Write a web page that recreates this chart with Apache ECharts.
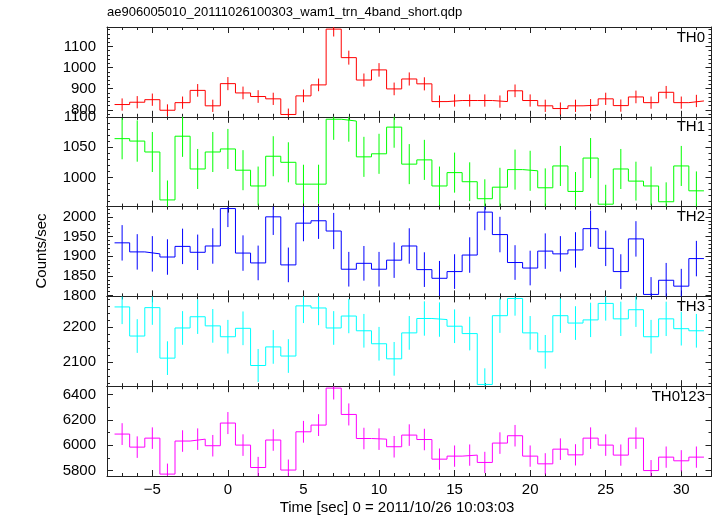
<!DOCTYPE html>
<html><head><meta charset="utf-8">
<script src="https://cdn.jsdelivr.net/npm/echarts@6/dist/echarts.min.js"></script>
<style>html,body{margin:0;padding:0;background:#fff}#c{width:717px;height:516px}</style>
</head><body><div id="c"></div>
<script>
const titleText = 'ae906005010_20111026100303_wam1_trn_4band_short.qdp';
const xAxisTitle = 'Time [sec] 0 = 2011/10/26 10:03:03';
const yAxisTitle = 'Counts/sec';
const panelNames = ['TH0', 'TH1', 'TH2', 'TH3', 'TH0123'];
const panelColors = ['#ff0000', '#00ff00', '#0000ff', '#00ffff', '#ff00ff'];

const timeBins = [-7,-6,-5,-4,-3,-2,-1,0,1,2,3,4,5,6,7,8,9,10,11,12,13,14,15,16,17,18,19,20,21,22,23,24,25,26,27,28,29,30,31];
const binWidth = 1;

const th0 = [825,836,848,798,834,892,819,924,880,863,852,778,866,918,1182,1047,941,989,899,946,923,839,844,844,844,839,890,844,819,806,819,822,852,820,861,834,883,834,842];
const th0Err = [29,29,29,28,29,30,29,31,30,30,29,28,30,30,35,33,31,32,30,31,31,29,29,29,29,29,30,29,29,29,29,29,29,29,30,29,30,29,29];

const th1 = [1064,1060,1042,963,1068,1014,1042,1047,1012,986,1035,1025,989,989,1096,1093,1034,1039,1083,1022,1029,986,1008,993,965,984,1013,1011,983,1019,977,1032,956,1014,994,986,960,1019,978];
const th1Err = [34,34,33,32,34,33,33,33,33,32,33,33,32,32,34,34,33,33,34,33,33,32,33,32,32,32,33,33,32,33,32,33,32,33,32,32,32,33,32];

const th2 = [1934,1911,1906,1898,1925,1910,1926,2021,1908,1883,2000,1878,1984,1990,1964,1867,1882,1867,1890,1926,1866,1844,1861,1903,2012,1955,1884,1870,1913,1906,1916,1970,1920,1861,1944,1803,1839,1824,1894];
const th2Err = [45,45,45,45,45,45,45,47,45,44,46,44,46,46,46,44,44,44,45,45,44,44,44,45,46,45,44,44,45,45,45,46,45,44,45,44,44,44,45];

const th3 = [2257,2174,2255,2111,2197,2229,2203,2172,2196,2090,2143,2117,2260,2254,2197,2231,2189,2152,2109,2183,2224,2221,2202,2181,2036,2232,2281,2183,2129,2232,2211,2220,2267,2223,2249,2172,2223,2195,2189];
const th3Err = [49,48,49,48,48,49,48,48,48,47,48,48,49,49,48,49,48,48,48,48,49,49,48,48,46,49,49,48,48,49,48,49,49,49,49,48,49,48,48];

const th0123 = [6087,5984,6055,5771,6032,6047,5995,6174,6000,5823,6040,5803,6105,6158,6450,6242,6052,6047,5987,6079,6044,5889,5913,5921,5863,6016,6074,5913,5852,5968,5923,6055,6000,5921,6055,5799,5905,5876,5905];
const th0123Err = [86,85,85,83,85,85,85,87,85,84,85,83,86,86,90,87,85,85,85,85,85,84,84,84,84,85,85,84,84,85,84,85,85,84,85,83,84,84,84];

const xRange = [-8, 32];
const yRanges = [[767, 1192], [952, 1100], [1798, 2026], [2031, 2287], [5756, 6465]];
const ySplits = [5, 3, 4, 3, 4];
const yMinorSplits = [5, 5, 5, 5, 2];

const panelValues = [th0, th1, th2, th3, th0123];
const panelErrors = [th0Err, th1Err, th2Err, th3Err, th0123Err];

const FONT = '"Liberation Sans", Arial, Helvetica, sans-serif';
const gridLeft = 107, gridRight = 5.5, gridTop0 = 27, panelH = 89.8;
const axisColor = '#222';

const chart = echarts.init(document.getElementById('c'), null, {renderer: 'canvas'});

const grids = [], xAxes = [], yAxes = [], series = [], graphics = [];
const minus = v => String(v).replace('-', '\u2212');
const plain = v => String(v);

for (let i = 0; i < 5; i++) {
  const top = gridTop0 + i * panelH;
  grids.push({left: gridLeft, right: gridRight, top: top, height: panelH, outerBoundsMode: 'none', containLabel: false});
  const xBase = {
    type: 'value', gridIndex: i, min: xRange[0], max: xRange[1], splitNumber: 8,
    axisLine: {show: true, onZero: false, lineStyle: {color: axisColor, width: 1}},
    axisTick: {show: true, inside: true, length: 6, lineStyle: {color: axisColor}},
    minorTick: {show: true, splitNumber: 5, length: 3, lineStyle: {color: axisColor}},
    splitLine: {show: false}, minorSplitLine: {show: false}
  };
  xAxes.push(Object.assign({}, xBase, {
    position: 'bottom',
    axisLabel: {show: i === 4, margin: 6, fontSize: 15, color: '#000', fontFamily: FONT,
      showMinLabel: false, showMaxLabel: false, formatter: minus}
  }));
  xAxes.push(Object.assign({}, xBase, {position: 'top', axisLabel: {show: false}}));

  const yBase = {
    type: 'value', gridIndex: i, min: yRanges[i][0], max: yRanges[i][1], splitNumber: ySplits[i],
    axisLine: {show: true, onZero: false, lineStyle: {color: axisColor, width: 1}},
    axisTick: {show: true, inside: true, length: 6, lineStyle: {color: axisColor}},
    minorTick: {show: true, splitNumber: yMinorSplits[i], length: 3, lineStyle: {color: axisColor}},
    splitLine: {show: false}, minorSplitLine: {show: false}, scale: true
  };
  yAxes.push(Object.assign({}, yBase, {
    position: 'left',
    axisLabel: {show: true, margin: 11, fontSize: 15, color: '#000', fontFamily: FONT,
      showMinLabel: false, showMaxLabel: i === 1, hideOverlap: false, formatter: plain}
  }));
  yAxes.push(Object.assign({}, yBase, {position: 'right', axisLabel: {show: false}}));

  const vals = panelValues[i], errs = panelErrors[i], col = panelColors[i];
  const stepData = timeBins.map((t, k) => [t - binWidth / 2, vals[k]]);
  stepData.push([timeBins[timeBins.length - 1] + binWidth / 2, vals[vals.length - 1]]);
  series.push({
    type: 'line', xAxisIndex: 2 * i, yAxisIndex: 2 * i, data: stepData, step: 'end',
    symbol: 'none', clip: true, silent: true,
    lineStyle: {color: col, width: 1}
  });
  series.push({
    type: 'custom', xAxisIndex: 2 * i, yAxisIndex: 2 * i, clip: true, silent: true,
    data: timeBins.map((t, k) => [t, vals[k], errs[k]]),
    encode: {x: 0, y: 1},
    renderItem: function (params, api) {
      const x = api.value(0), y = api.value(1), e = api.value(2);
      const p1 = api.coord([x, y + e]);
      const p2 = api.coord([x, y - e]);
      return {type: 'line', shape: {x1: p1[0], y1: p1[1], x2: p2[0], y2: p2[1]},
        style: {stroke: col, lineWidth: 1}};
    }
  });
  graphics.push({type: 'text', x: 705, y: top + 10.5,
    style: {text: panelNames[i], fill: '#000', font: '15px ' + FONT, textAlign: 'right', textVerticalAlign: 'middle'}});
}

graphics.push({type: 'text', x: 107, y: 12,
  style: {text: titleText, fill: '#000', font: '13px ' + FONT, textAlign: 'left', textVerticalAlign: 'middle'}});
graphics.push({type: 'text', x: 397, y: 508,
  style: {text: xAxisTitle, fill: '#000', font: '15px ' + FONT, textAlign: 'center', textVerticalAlign: 'middle'}});
graphics.push({type: 'text', x: 42, y: 251, rotation: Math.PI / 2,
  style: {text: yAxisTitle, fill: '#000', font: '15px ' + FONT, textAlign: 'center', textVerticalAlign: 'middle'}});

chart.setOption({
  animation: false,
  backgroundColor: '#fff',
  grid: grids, xAxis: xAxes, yAxis: yAxes, series: series, graphic: graphics
});
</script></body></html>
